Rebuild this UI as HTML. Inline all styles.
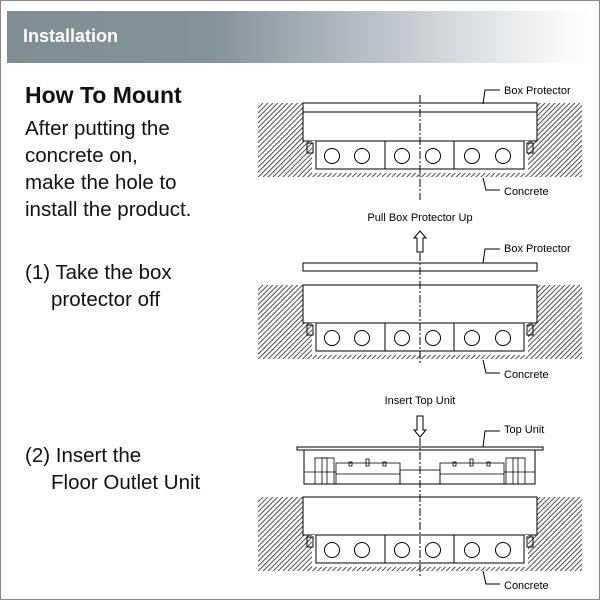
<!DOCTYPE html>
<html><head><style>
body{margin:0;width:600px;height:600px;overflow:hidden;background:#fff;font-family:"Liberation Sans",sans-serif;}
.frame{position:absolute;left:0;top:0;width:598px;height:598px;border:1px solid #888;}
.hdr{position:absolute;left:7px;top:11px;width:584px;height:52px;background:linear-gradient(90deg,#7f8e94 0%,#84929a 35%,#b4bcc2 60%,#e6e9eb 85%,#fff 100%);}
.hdr span{position:absolute;left:16px;top:15px;color:#fff;font-size:18px;font-weight:bold;}
.t{position:absolute;left:25px;font-size:20.5px;color:#111;line-height:27px;}
</style></head><body>
<div class="frame"></div>
<div class="hdr"><span>Installation</span></div>
<div class="t" style="top:82px;font-weight:bold;font-size:23px;">How To Mount</div>
<div class="t" style="top:115px;">After putting the<br>concrete on,<br>make the hole to<br>install the product.</div>
<div class="t" style="top:259px;">(1) Take the box<br><span style="padding-left:26px">protector off</span></div>
<div class="t" style="top:442px;">(2) Insert the<br><span style="padding-left:26px">Floor Outlet Unit</span></div>
<svg width="600" height="600" style="position:absolute;left:0;top:0" font-family="Liberation Sans, sans-serif" font-size="11">
<defs>
<pattern id="h" width="3.5" height="3.5" patternUnits="userSpaceOnUse" patternTransform="rotate(45)">
<line x1="0" y1="0" x2="0" y2="3.5" stroke="#222" stroke-width="1.6"/>
</pattern>
<g id="box">
<rect x="258" y="0" width="324" height="74" fill="url(#h)"/>
<rect x="303" y="0" width="234" height="38" fill="#fff" stroke="#000"/>
<rect x="312" y="38" width="216" height="32" fill="#fff"/>
<rect x="316" y="38" width="208" height="28" fill="#fff" stroke="#000"/>
<line x1="385" y1="38" x2="385" y2="66" stroke="#000"/>
<line x1="454" y1="38" x2="454" y2="66" stroke="#000"/>
<g fill="none" stroke="#000">
<circle cx="332" cy="53" r="7.5"/><circle cx="362" cy="53" r="7.5"/>
<circle cx="402" cy="53" r="7.5"/><circle cx="433" cy="53" r="7.5"/>
<circle cx="472" cy="53" r="7.5"/><circle cx="503" cy="53" r="7.5"/>
<rect x="307" y="40" width="6" height="10"/><rect x="527" y="40" width="6" height="10"/>
</g>
</g>
</defs>
<use href="#box" y="103"/>
<line x1="303" y1="112" x2="537" y2="112" stroke="#000"/>
<line x1="420" y1="95" x2="420" y2="200" stroke="#000" stroke-dasharray="8,2,2,2"/>
<polyline points="483,104 485,90 500,90" fill="none" stroke="#000"/>
<text x="504" y="94">Box Protector</text>
<polyline points="483,178 486,190 500,190" fill="none" stroke="#000"/>
<text x="504" y="195">Concrete</text>
<text x="420" y="221" text-anchor="middle">Pull Box Protector Up</text>
<path d="M420,231 L426,238 L423,238 L423,252 L417,252 L417,238 L414,238 Z" fill="#fff" stroke="#000"/>
<rect x="303" y="263" width="234" height="8" fill="#fff" stroke="#000"/>
<use href="#box" y="285"/>
<line x1="420" y1="253" x2="420" y2="365" stroke="#000" stroke-dasharray="8,2,2,2"/>
<polyline points="483,263 485,249 500,249" fill="none" stroke="#000"/>
<text x="504" y="252">Box Protector</text>
<polyline points="483,360 486,373 500,373" fill="none" stroke="#000"/>
<text x="504" y="378">Concrete</text>
<text x="420" y="404" text-anchor="middle">Insert Top Unit</text>
<path d="M420,437 L426,430 L423,430 L423,416 L417,416 L417,430 L414,430 Z" fill="#fff" stroke="#000"/>
<path d="M297,447 L543,447 L543,450 L297,450 Z" fill="#fff" stroke="#000"/>
<rect x="304" y="450" width="231" height="34" fill="#fff" stroke="#000"/>
<g fill="none" stroke="#000" stroke-width="0.8">
<rect x="315" y="458" width="12" height="26"/><rect x="322" y="458" width="12" height="26"/>
<rect x="506" y="458" width="12" height="26"/><rect x="513" y="458" width="12" height="26"/>
<rect x="336" y="463" width="64" height="21"/><line x1="336" y1="474" x2="400" y2="474"/>
<rect x="440" y="463" width="64" height="21"/><line x1="440" y1="474" x2="504" y2="474"/>
<rect x="400" y="470" width="40" height="14"/>
<line x1="304" y1="472" x2="336" y2="472"/><line x1="504" y1="472" x2="535" y2="472"/>
<rect x="349" y="462" width="3" height="4"/><rect x="366" y="459" width="3" height="7"/><rect x="383" y="462" width="3" height="4"/>
<rect x="453" y="462" width="3" height="4"/><rect x="470" y="459" width="3" height="7"/><rect x="487" y="462" width="3" height="4"/>
</g>
<use href="#box" y="497"/>
<line x1="420" y1="438" x2="420" y2="578" stroke="#000" stroke-dasharray="8,2,2,2"/>
<polyline points="483,447 485,431 500,431" fill="none" stroke="#000"/>
<text x="504" y="433">Top Unit</text>
<polyline points="483,571 486,584 500,584" fill="none" stroke="#000"/>
<text x="504" y="589">Concrete</text>
</svg>
</body></html>
